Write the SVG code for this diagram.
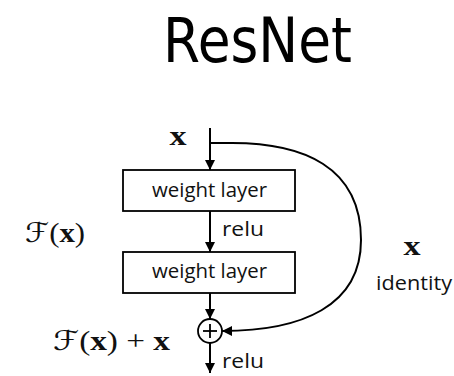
<svg xmlns="http://www.w3.org/2000/svg" width="454" height="376" viewBox="0 0 454 376">
  <defs>
    <marker id="arr" viewBox="0 0 10 10" refX="10" refY="5" markerWidth="10" markerHeight="10" markerUnits="userSpaceOnUse" orient="auto">
      <path d="M0,0 L10,5 L0,10 z" fill="#000"/>
    </marker>
    <style>
      .box { fill: #fff; stroke: #000; stroke-width: 1.8; }
      .lbl { font-family: "Open Sans", "Liberation Sans", sans-serif; font-size: 19.5px; fill: #111; }
      .math { font-family: "Liberation Serif", "DejaVu Serif", serif; font-size: 27px; fill: #111; }
      .bx { font-weight: bold; }
      .cal { font-family: "DejaVu Serif", "DejaVu Sans", serif; font-style: italic; }
      .conn { fill: none; stroke: #000; stroke-width: 2; }
    </style>
  </defs>
  <rect width="454" height="376" fill="#fff"/>

  <text id="title" x="163" y="62" font-family="DejaVu Sans, Open Sans, sans-serif" font-size="63" fill="#000" textLength="189" lengthAdjust="spacingAndGlyphs">ResNet</text>

  <g id="connectors">
    <line class="conn" x1="210" y1="128" x2="210" y2="170" marker-end="url(#arr)"/>
    <line class="conn" x1="210" y1="211" x2="210" y2="252" marker-end="url(#arr)"/>
    <line class="conn" x1="210" y1="293" x2="210" y2="319" marker-end="url(#arr)"/>
    <line class="conn" x1="210" y1="343" x2="210" y2="373" marker-end="url(#arr)"/>
    <path class="conn" d="M210,143 H232 C302,143 361,166 361,240 C361,306 302,331 222,331" marker-end="url(#arr)"/>
  </g>

  <g id="input-x">
    <text class="math bx" x="178" y="145" text-anchor="middle" textLength="17" lengthAdjust="spacingAndGlyphs">x</text>
  </g>

  <g id="weight-layer-1">
    <rect class="box" x="123" y="170" width="172" height="41"/>
    <text class="lbl" x="209.5" y="197" text-anchor="middle" textLength="115" lengthAdjust="spacingAndGlyphs">weight layer</text>
  </g>

  <g id="relu-1">
    <text class="lbl" x="222" y="236" textLength="42" lengthAdjust="spacingAndGlyphs">relu</text>
  </g>

  <g id="weight-layer-2">
    <rect class="box" x="123" y="252" width="172" height="41"/>
    <text class="lbl" x="209.5" y="278" text-anchor="middle" textLength="115" lengthAdjust="spacingAndGlyphs">weight layer</text>
  </g>

  <g id="sum">
    <circle cx="210" cy="331" r="12" fill="#fff" stroke="#000" stroke-width="1.8"/>
    <line x1="203" y1="331" x2="217" y2="331" stroke="#000" stroke-width="1.8"/>
    <line x1="210" y1="324" x2="210" y2="338" stroke="#000" stroke-width="1.8"/>
  </g>

  <g id="relu-2">
    <text class="lbl" x="222" y="368" textLength="42" lengthAdjust="spacingAndGlyphs">relu</text>
  </g>

  <g id="label-Fx">
    <text class="math" x="25" y="242" textLength="60" lengthAdjust="spacingAndGlyphs"><tspan class="cal">ℱ</tspan>(<tspan class="bx">x</tspan>)</text>
  </g>

  <g id="label-Fx-plus-x">
    <text class="math" x="53" y="350" textLength="117" lengthAdjust="spacingAndGlyphs" xml:space="preserve"><tspan class="cal">ℱ</tspan>(<tspan class="bx">x</tspan>) + <tspan class="bx">x</tspan></text>
  </g>

  <g id="identity-label">
    <text class="math bx" x="412" y="255" text-anchor="middle" textLength="17" lengthAdjust="spacingAndGlyphs">x</text>
    <text class="lbl" x="376" y="290" textLength="76" lengthAdjust="spacingAndGlyphs">identity</text>
  </g>
</svg>
